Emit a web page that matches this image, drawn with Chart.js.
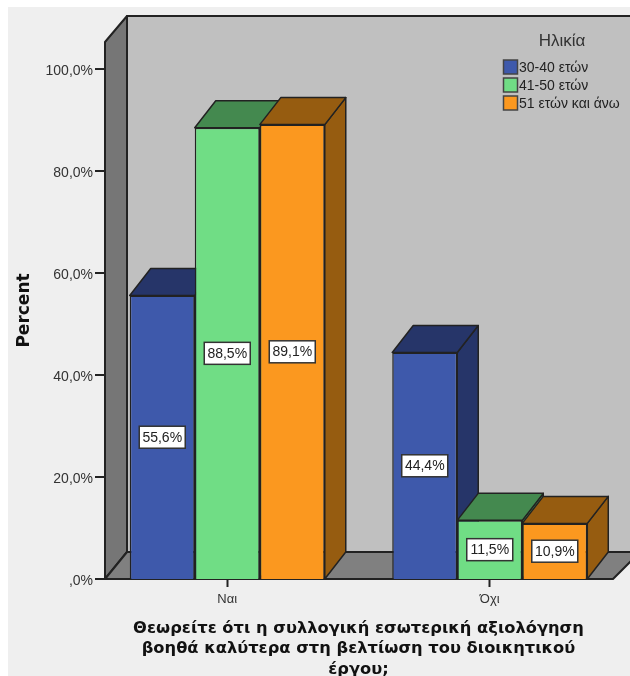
<!DOCTYPE html>
<html>
<head>
<meta charset="utf-8">
<title>Ηλικία</title>
<script src="https://cdn.jsdelivr.net/npm/chart.js@4/dist/chart.umd.min.js"></script>
<style>
    html, body { margin: 0; padding: 0; background: #fff; }
    canvas { display: block; }
</style>
</head>
<body>
<canvas id="chartCanvas" width="630" height="676"></canvas>
<script>
const categories = ['Ναι', 'Όχι'];
const ageGroups = ['30-40 ετών', '41-50 ετών', '51 ετών και άνω'];
const youngValues = [55.6, 44.4];
const middleValues = [88.5, 11.5];
const olderValues = [89.1, 10.9];
const yTickValues = [0, 20, 40, 60, 80, 100];
const yTickLabels = [',0%', '20,0%', '40,0%', '60,0%', '80,0%', '100,0%'];
const titleLines = [
    'Θεωρείτε ότι η συλλογική εσωτερική αξιολόγηση',
    'βοηθά καλύτερα στη βελτίωση του διοικητικού',
    'έργου;'
];

const frontColors = ['#3e59ab', '#70dd85', '#fb981f'];
const topColors = ['#263569', '#44894f', '#965c10'];
const lineColor = '#222222';
const depthX = 21;
const depthY = 27;

const formatValue = value => value.toFixed(1).replace('.', ',') + '%';

const polygon = (ctx, points, fill, width = 1.5) => {
    ctx.beginPath();
    points.forEach(([x, y], i) => (i === 0 ? ctx.moveTo(x, y) : ctx.lineTo(x, y)));
    ctx.closePath();
    ctx.fillStyle = fill;
    ctx.fill();
    ctx.lineWidth = width;
    ctx.lineJoin = 'round';
    ctx.strokeStyle = lineColor;
    ctx.stroke();
};

// page panel, box walls, floor and the extruded sides of the bars
const boxPlugin = {
    id: 'box',
    beforeDraw(chart) {
        const { ctx, scales: { y } } = chart;
        const base = y.getPixelForValue(0);
        const top = y.top;
        const left = 105;
        ctx.save();
        ctx.fillStyle = '#efefef';
        ctx.fillRect(8, 7, 622, 669);
        polygon(ctx, [[left + 22, top - 26], [640, top - 26], [640, base - 27], [left + 22, base - 27]], '#c0c0c0', 2);
        polygon(ctx, [[left, top], [left + 22, top - 26], [left + 22, base - 27], [left, base]], '#767676', 2);
        polygon(ctx, [[left, base], [left + 22, base - 27], [640, base - 27], [613, base]], '#808080', 2);
        ctx.strokeStyle = lineColor;
        ctx.lineWidth = 2;
        yTickValues.forEach(value => {
            const py = y.getPixelForValue(value);
            ctx.beginPath();
            ctx.moveTo(95, py);
            ctx.lineTo(left, py);
            ctx.stroke();
        });
        ctx.restore();
    },
    beforeDatasetsDraw(chart) {
        const { ctx } = chart;
        ctx.save();
        chart.data.datasets.forEach((dataset, i) => {
            chart.getDatasetMeta(i).data.forEach(bar => {
                const x0 = bar.x - bar.width / 2;
                const x1 = bar.x + bar.width / 2;
                polygon(ctx, [[x1, bar.y], [x1 + depthX, bar.y - depthY], [x1 + depthX, bar.base - depthY], [x1, bar.base]], topColors[i]);
                polygon(ctx, [[x0, bar.y], [x0 + depthX, bar.y - depthY], [x1 + depthX, bar.y - depthY], [x1, bar.y]], topColors[i]);
            });
        });
        ctx.restore();
    },
    afterDatasetsDraw(chart) {
        const { ctx } = chart;
        ctx.save();
        ctx.font = '14px "Liberation Sans"';
        ctx.textAlign = 'center';
        ctx.textBaseline = 'middle';
        chart.data.datasets.forEach((dataset, i) => {
            chart.getDatasetMeta(i).data.forEach((bar, j) => {
                const cy = (bar.y + bar.base) / 2;
                ctx.fillStyle = '#ffffff';
                ctx.strokeStyle = '#333333';
                ctx.lineWidth = 1.5;
                ctx.fillRect(bar.x - 23, cy - 11, 46, 22);
                ctx.strokeRect(bar.x - 23, cy - 11, 46, 22);
                ctx.fillStyle = '#222222';
                ctx.fillText(formatValue(dataset.data[j]), bar.x, cy + 0.5);
            });
        });

        // legend block in the top right of the back wall
        ctx.fillStyle = '#333333';
        ctx.font = '17px "Liberation Sans"';
        ctx.fillText('Ηλικία', 562, 41);
        ctx.textAlign = 'left';
        ctx.font = '14px "Liberation Sans"';
        ageGroups.forEach((group, i) => {
            const rowY = 67 + i * 18;
            ctx.fillStyle = frontColors[i];
            ctx.fillRect(503.5, rowY - 7, 14, 14);
            ctx.strokeStyle = '#444444';
            ctx.lineWidth = 1.5;
            ctx.strokeRect(503.5, rowY - 7, 14, 14);
            ctx.fillStyle = '#222222';
            ctx.fillText(group, 519, rowY + 1);
        });
        ctx.restore();
    }
};

const seriesValues = [youngValues, middleValues, olderValues];

new Chart(document.getElementById('chartCanvas'), {
    type: 'bar',
    data: {
        labels: categories,
        datasets: ageGroups.map((group, i) => ({
            label: group,
            data: seriesValues[i],
            backgroundColor: frontColors[i],
            borderColor: lineColor,
            borderWidth: 1.5,
            categoryPercentage: 0.743,
            barPercentage: 1
        }))
    },
    options: {
        responsive: false,
        animation: false,
        layout: { padding: { top: 42, right: 9, left: 0, bottom: 0 } },
        plugins: {
            legend: { display: false },
            tooltip: { enabled: false }
        },
        scales: {
            x: {
                afterFit: scale => { scale.height = 97; },
                border: { display: false },
                grid: {
                    offset: false,
                    drawOnChartArea: false,
                    tickLength: 8,
                    tickWidth: 2,
                    tickColor: lineColor
                },
                ticks: {
                    color: '#333333',
                    padding: 5,
                    font: { family: '"Liberation Sans"', size: 13 },
                    maxRotation: 0
                },
                title: {
                    display: true,
                    text: titleLines,
                    color: '#111111',
                    padding: { top: 0, bottom: -4 },
                    font: { family: '"DejaVu Sans"', size: 16.3, weight: 'bold', lineHeight: 1.26 }
                }
            },
            y: {
                min: 0,
                max: 105.3,
                afterFit: scale => { scale.width = 96; },
                border: { display: false },
                grid: { display: false, drawTicks: false },
                ticks: {
                    stepSize: 20,
                    includeBounds: false,
                    padding: 3,
                    labelOffset: 2,
                    color: '#333333',
                    font: { family: '"Liberation Sans"', size: 14 },
                    callback: value => yTickLabels[yTickValues.indexOf(value)]
                },
                title: {
                    display: true,
                    text: 'Percent',
                    color: '#111111',
                    padding: { top: 14, bottom: 0 },
                    font: { family: '"DejaVu Sans"', size: 17, weight: 'bold' }
                }
            }
        }
    },
    plugins: [boxPlugin]
});
</script>
</body>
</html>
